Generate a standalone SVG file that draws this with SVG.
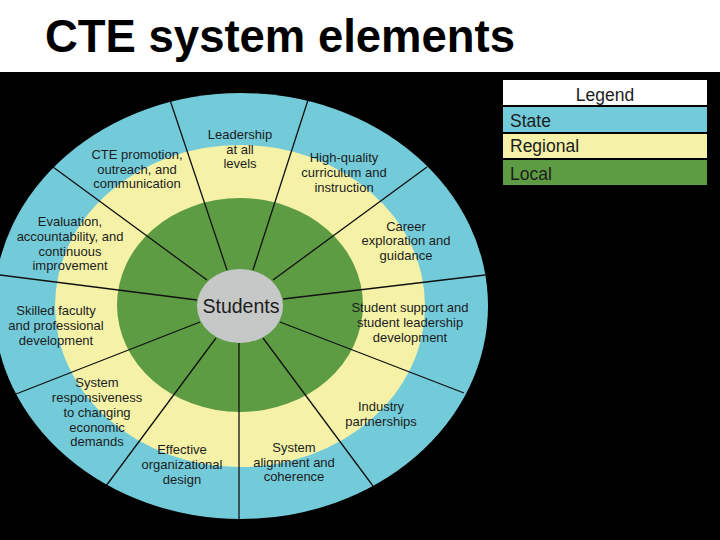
<svg xmlns="http://www.w3.org/2000/svg" width="720" height="540" viewBox="0 0 720 540">
<style>
.lbl{font-family:"Liberation Sans",Arial,sans-serif;font-size:13px;fill:#1c1c1c;text-anchor:middle}
.lg{font-family:"Liberation Sans",Arial,sans-serif;font-size:17.5px;fill:#1c1c1c}
.spoke{stroke:#111;stroke-width:1.3;fill:none}
</style>
<rect width="720" height="540" fill="#ffffff"/>
<text x="45" y="52" font-family="'Liberation Sans',Arial,sans-serif" font-weight="bold" font-size="47" fill="#000" textLength="470" lengthAdjust="spacingAndGlyphs">CTE system elements</text>
<rect x="0" y="72" width="720" height="468" fill="#000"/>
<g id="rings">
<ellipse cx="241" cy="306" rx="247" ry="213" fill="#73CBDA"/>
<ellipse cx="240" cy="306" rx="185" ry="161" fill="#F5F2A8"/>
<ellipse cx="240" cy="305" rx="123" ry="107" fill="#5E9C44"/>
</g>
<g id="connectors">
<line class="spoke" x1="170" y1="100" x2="227" y2="270"/>
<line class="spoke" x1="308" y1="100" x2="253" y2="270"/>
<line class="spoke" x1="427" y1="167" x2="273" y2="280"/>
<line class="spoke" x1="485" y1="275" x2="283" y2="299"/>
<line class="spoke" x1="464" y1="393" x2="280" y2="322"/>
<line class="spoke" x1="373" y1="486" x2="263" y2="338"/>
<line class="spoke" x1="239" y1="519" x2="239" y2="343"/>
<line class="spoke" x1="106" y1="486" x2="216" y2="338"/>
<line class="spoke" x1="16" y1="394" x2="200" y2="322"/>
<line class="spoke" x1="0" y1="275" x2="197" y2="300"/>
<line class="spoke" x1="53" y1="167" x2="207" y2="280"/>
</g>
<g id="students">
<ellipse cx="240" cy="306" rx="43" ry="37" fill="#C6C8C8"/>
<text x="241" y="313" font-family="'Liberation Sans',Arial,sans-serif" font-size="19.5" fill="#1c1c1c" text-anchor="middle">Students</text>
</g>
<g id="leadership"><text class="lbl" x="240" y="139">Leadership</text><text class="lbl" x="240" y="154">at all</text><text class="lbl" x="240" y="168">levels</text></g>
<g id="promotion"><text class="lbl" x="137" y="159">CTE promotion,</text><text class="lbl" x="137" y="174">outreach, and</text><text class="lbl" x="137" y="188">communication</text></g>
<g id="curriculum"><text class="lbl" x="344" y="162">High-quality</text><text class="lbl" x="344" y="177">curriculum and</text><text class="lbl" x="344" y="192">instruction</text></g>
<g id="career"><text class="lbl" x="406" y="231">Career</text><text class="lbl" x="406" y="245">exploration and</text><text class="lbl" x="406" y="260">guidance</text></g>
<g id="support"><text class="lbl" x="410" y="312">Student support and</text><text class="lbl" x="410" y="327">student leadership</text><text class="lbl" x="410" y="342">development</text></g>
<g id="industry"><text class="lbl" x="381" y="411">Industry</text><text class="lbl" x="381" y="426">partnerships</text></g>
<g id="alignment"><text class="lbl" x="294" y="452">System</text><text class="lbl" x="294" y="467">alignment and</text><text class="lbl" x="294" y="481">coherence</text></g>
<g id="organizational"><text class="lbl" x="182" y="454">Effective</text><text class="lbl" x="182" y="469">organizational</text><text class="lbl" x="182" y="484">design</text></g>
<g id="responsiveness"><text class="lbl" x="97" y="387">System</text><text class="lbl" x="97" y="402">responsiveness</text><text class="lbl" x="97" y="417">to changing</text><text class="lbl" x="97" y="432">economic</text><text class="lbl" x="97" y="446">demands</text></g>
<g id="faculty"><text class="lbl" x="56" y="315">Skilled faculty</text><text class="lbl" x="56" y="330">and professional</text><text class="lbl" x="56" y="345">development</text></g>
<g id="evaluation"><text class="lbl" x="70" y="226">Evaluation,</text><text class="lbl" x="70" y="241">accountability, and</text><text class="lbl" x="70" y="256">continuous</text><text class="lbl" x="70" y="270">improvement</text></g>
<g id="legend">
<rect x="503" y="80" width="204" height="25" fill="#ffffff"/>
<rect x="503" y="107" width="204" height="25" fill="#73CBDA"/>
<rect x="503" y="134" width="204" height="24" fill="#F5F2A8"/>
<rect x="503" y="160" width="204" height="25" fill="#5E9C44"/>
<text class="lg" x="605" y="101" text-anchor="middle">Legend</text>
<text class="lg" x="510" y="127">State</text>
<text class="lg" x="510" y="152">Regional</text>
<text class="lg" x="510" y="180">Local</text>
</g>
</svg>
